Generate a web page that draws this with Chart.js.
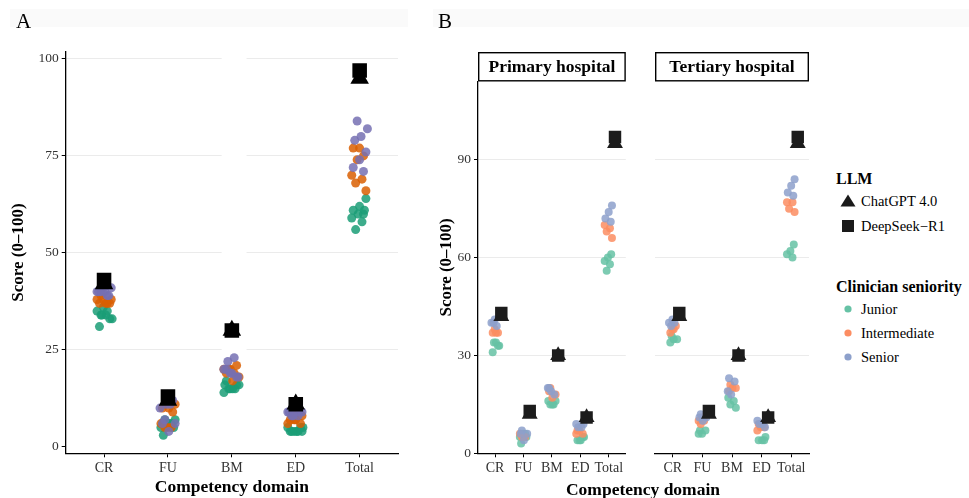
<!DOCTYPE html>
<html><head><meta charset="utf-8">
<script src="https://cdn.jsdelivr.net/npm/chart.js@4.4.1/dist/chart.umd.min.js"></script>
<style>
html,body{margin:0;padding:0;background:#fff;}
body{width:969px;height:498px;position:relative;overflow:hidden;font-family:'Liberation Serif','Times New Roman',serif;}
canvas{position:absolute;top:0;}
.band{position:absolute;background:#fafafa;}
.lbl{position:absolute;white-space:nowrap;color:#000;}
.lg{position:absolute;white-space:nowrap;color:#000;font-size:14.5px;height:20px;line-height:20px;}
.lg svg{position:absolute;left:0;top:0;}
.lg span{position:absolute;left:21px;top:0;}
</style></head><body>
<div class="band" style="left:10px;top:9px;width:398px;height:18px"></div>
<div class="band" style="left:433px;top:9px;width:536px;height:18px"></div>
<canvas id="cA" width="420" height="498" style="left:0px"></canvas>
<canvas id="cB1" width="215" height="498" style="left:420px"></canvas>
<canvas id="cB2" width="180" height="498" style="left:640px"></canvas>
<div class="lbl" style="left:16px;top:9px;font-size:21px;line-height:24px">A</div>
<div class="lbl" style="left:438px;top:9px;font-size:21px;line-height:24px">B</div>
<div class="lbl" style="left:543px;top:478px;width:200px;text-align:center;font-size:17.5px;font-weight:bold;line-height:22px">Competency domain</div>

<div class="lbl" style="left:836px;top:169px;font-size:16px;font-weight:bold;line-height:20px">LLM</div>
<div class="lg" style="left:840px;top:191px"><svg width="16" height="20"><polygon points="0.5,15.5 8,3.5 15.5,15.5" fill="#1a1a1a"/></svg><span id="lgChat"></span></div>
<div class="lg" style="left:840px;top:216px"><svg width="16" height="20"><rect x="2" y="4" width="12" height="12" fill="#1a1a1a"/></svg><span id="lgDeep"></span></div>
<div class="lbl" style="left:836px;top:277px;font-size:16px;font-weight:bold;line-height:20px">Clinician seniority</div>
<div class="lg" style="left:840px;top:299px"><svg width="16" height="20"><circle cx="8" cy="10" r="3.6" fill="#66C2A5"/></svg><span id="lgJ"></span></div>
<div class="lg" style="left:840px;top:323px"><svg width="16" height="20"><circle cx="8" cy="10" r="3.6" fill="#FC8D62"/></svg><span id="lgI"></span></div>
<div class="lg" style="left:840px;top:347px"><svg width="16" height="20"><circle cx="8" cy="10" r="3.6" fill="#8DA0CB"/></svg><span id="lgS"></span></div>

<script>
// ---------- data ----------
const categories = ['CR', 'FU', 'BM', 'ED', 'Total'];
const ticksA = [0, 25, 50, 75, 100];
const ticksB = [0, 30, 60, 90];
const facets = ['Primary hospital', 'Tertiary hospital'];
const llmNames = ['ChatGPT 4.0', 'DeepSeek\u2212R1'];
const seniorityNames = ['Junior', 'Intermediate', 'Senior'];

const chatgpt  = [42, 12, 30, 11, 95];
const deepseek = [43, 13, 30, 11, 97];

// per category: CR, FU, BM, ED, Total
const primJunior = [[34,33,34,31,33],[3,5,6,5,6],[16,15,15,16,15],[5,4,4,5,4],[61,60,59,58,56]];
const primInter  = [[37,37,37,38],[5,6,5,5],[20,18,17,19],[7,6,7,6],[70,69,68,66]];
const primSenior = [[41,40,39,40],[7,6,4,6],[20,18,19,20],[9,8,8,9],[76,74,72,71]];
const tertJunior = [[36,35,35,34],[7,7,6,6],[17,16,15,14],[5,4,4,4],[64,62,61,60]];
const tertInter  = [[38,37,39,38],[11,10,10,9],[21,20,20,19],[9,8,8,7],[77,77,75,74]];
const tertSenior = [[41,40,40,39],[12,11,10,11],[23,22,18,19],[10,9,9,8],[84,82,80,79]];

// ---------- helpers ----------
const F = "'Liberation Serif', 'Times New Roman', serif";
document.getElementById('lgChat').textContent = llmNames[0];
document.getElementById('lgDeep').textContent = llmNames[1];
document.getElementById('lgJ').textContent = seniorityNames[0];
document.getElementById('lgI').textContent = seniorityNames[1];
document.getElementById('lgS').textContent = seniorityNames[2];

function jit(k, w) { const f = (k * 0.6180339887 + 0.37) % 1; return (f * 2 - 1) * w; }
function pts(groups, w, seed) {
  const out = [];
  groups.forEach((arr, ci) => arr.forEach((v, k) => out.push({x: ci + jit(k + ci * 3 + seed, w), y: v})));
  return out;
}
function llm(vals, dx) { return vals.map((v, i) => ({x: i + dx, y: v})); }
const merge = (a, b) => a.map((arr, i) => arr.concat(b[i]));

const gapPlugin = {
  id: 'gap',
  beforeDatasetsDraw(chart) {
    const {ctx, scales: {x, y}, chartArea: a} = chart;
    const l = x.getPixelForValue(2 - 0.16), r = x.getPixelForValue(2 + 0.23);
    ctx.save(); ctx.fillStyle = '#fff';
    ctx.fillRect(l, a.top, r - l, y.getPixelForValue(23.5) - a.top);
    ctx.restore();
  }
};
const stripPlugin = {
  id: 'strip',
  afterDraw(chart, args, o) {
    const {ctx, chartArea: a} = chart;
    const top = 52;
    ctx.save();
    ctx.fillStyle = '#fff';
    ctx.fillRect(a.left, top, a.right - a.left, a.top - top);
    ctx.strokeStyle = '#000'; ctx.lineWidth = 1.4;
    ctx.strokeRect(a.left + 0.7, top + 0.7, a.right - a.left - 1.4, a.top - top - 1.4);
    ctx.font = "bold 17.5px " + F;
    ctx.textAlign = 'center'; ctx.textBaseline = 'middle'; ctx.fillStyle = '#000';
    ctx.fillText(o.text, (a.left + a.right) / 2, (top + a.top) / 2 + 1);
    ctx.restore();
  }
};

function xScale() {
  return {
    type: 'linear', min: -0.6, max: 4.6,
    afterBuildTicks: s => { s.ticks = categories.map((c, i) => ({value: i})); },
    ticks: {callback: v => categories[v], autoSkip: false, maxRotation: 0, minRotation: 0, padding: 3, color: '#333', font: {family: F, size: 14}},
    grid: {display: true, drawOnChartArea: false, drawTicks: true, tickLength: 4, tickColor: '#000', tickWidth: 1},
    border: {display: true, color: '#000', width: 1.3},
    title: {display: false},
    afterFit: s => { s.height = 44.7; }
  };
}

// ---------- Panel A ----------
new Chart(document.getElementById('cA'), {
  type: 'scatter',
  data: {datasets: [
    {label: llmNames[1], data: llm(deepseek, 0), pointStyle: 'rect', pointRadius: 10.3, backgroundColor: '#000', borderWidth: 0},
    {label: llmNames[0], data: llm(chatgpt, 0), pointStyle: 'triangle', pointRadius: 10.7, backgroundColor: '#000', borderWidth: 0},
    {label: 'Senior', data: pts(merge(primSenior, tertSenior), 0.13, 5), pointRadius: 4.5, backgroundColor: 'rgba(117,112,179,0.85)', borderWidth: 0},
    {label: 'Intermediate', data: pts(merge(primInter, tertInter), 0.13, 2), pointRadius: 4.5, backgroundColor: 'rgba(217,95,2,0.85)', borderWidth: 0},
    {label: 'Junior', data: pts(merge(primJunior, tertJunior), 0.13, 0), pointRadius: 4.5, backgroundColor: 'rgba(27,158,119,0.85)', borderWidth: 0}
  ]},
  options: {
    responsive: false, animation: false, events: [], devicePixelRatio: 1,
    layout: {padding: {left: 0, top: 51.7, right: 22, bottom: 0}},
    plugins: {legend: {display: false}, tooltip: {enabled: false}},
    scales: {
      x: Object.assign(xScale(), {title: {display: true, text: 'Competency domain', color: '#000', font: {family: F, size: 17.5, weight: 'bold'}, padding: {top: 0, bottom: 0}}}),
      y: {
        min: -1.65, max: 101.85,
        afterBuildTicks: s => { s.ticks = ticksA.map(v => ({value: v})); },
        ticks: {padding: 3, color: '#333', font: {family: F, size: 13.5}},
        grid: {color: c => (c.tick && c.tick.value === 0) ? 'rgba(0,0,0,0)' : '#ebebeb', lineWidth: 1, tickLength: 4, tickColor: '#000', tickWidth: 1},
        border: {display: true, color: '#000', width: 1.3},
        title: {display: true, text: 'Score (0\u2013100)', color: '#000', font: {family: F, size: 17, weight: 'bold'}, padding: {top: 8.5, bottom: 0}},
        afterFit: s => { s.width = 65.7; }
      }
    }
  },
  plugins: [gapPlugin]
});

// ---------- Panel B ----------
function facetChart(id, name, J, I, S, showY) {
  return new Chart(document.getElementById(id), {
    type: 'scatter',
    data: {datasets: [
      {label: llmNames[1], data: llm(deepseek, 0.22), pointStyle: 'rect', pointRadius: 8.8, backgroundColor: '#1c1c1c', borderWidth: 0},
      {label: llmNames[0], data: llm(chatgpt, 0.22), pointStyle: 'triangle', pointRadius: 9.2, backgroundColor: '#1c1c1c', borderWidth: 0},
      {label: 'Senior', data: pts(S, 0.15, 5), pointRadius: 4, backgroundColor: 'rgba(141,160,203,0.85)', borderWidth: 0},
      {label: 'Intermediate', data: pts(I, 0.15, 2), pointRadius: 4, backgroundColor: 'rgba(252,141,98,0.85)', borderWidth: 0},
      {label: 'Junior', data: pts(J, 0.15, 0), pointRadius: 4, backgroundColor: 'rgba(102,194,165,0.85)', borderWidth: 0}
    ]},
    options: {
      responsive: false, animation: false, events: [], devicePixelRatio: 1,
      layout: {padding: {left: 0, top: 81.5, right: showY ? 3 : 11, bottom: 0}},
      plugins: {legend: {display: false}, tooltip: {enabled: false}, strip: {text: name}},
      scales: {
        x: xScale(),
        y: {
          min: 0, max: 114,
          afterBuildTicks: s => { s.ticks = ticksB.map(v => ({value: v})); },
          ticks: {display: showY, padding: 3, color: '#333', font: {family: F, size: 13.5}},
          grid: {color: '#ebebeb', lineWidth: 1, drawTicks: showY, tickLength: 4, tickColor: '#000', tickWidth: 1},
          border: {display: showY, color: '#000', width: 1.3},
          title: {display: showY, text: 'Score (0\u2013100)', color: '#000', font: {family: F, size: 17, weight: 'bold'}, padding: {top: 16.5, bottom: 0}},
          afterFit: s => { s.width = showY ? 58 : 15; }
        }
      }
    },
    plugins: [stripPlugin]
  });
}
facetChart('cB1', facets[0], primJunior, primInter, primSenior, true);
facetChart('cB2', facets[1], tertJunior, tertInter, tertSenior, false);
</script>
</body></html>
